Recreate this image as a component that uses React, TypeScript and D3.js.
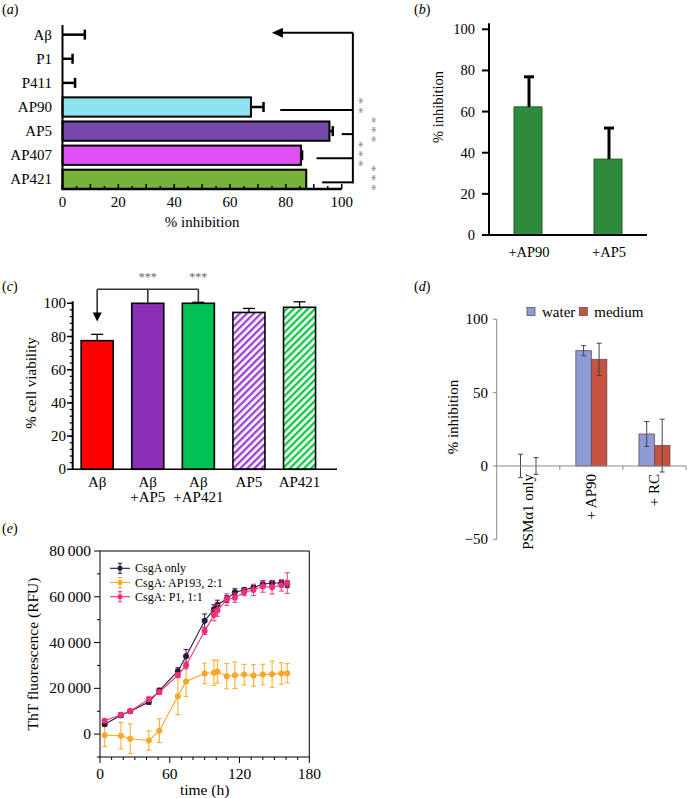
import React from 'react';
import * as d3 from 'd3';

const FONT = '"Liberation Serif","Times New Roman",Times,serif';

// ---------- panel (a)
const aCategories = ['Aβ', 'P1', 'P411', 'AP90', 'AP5', 'AP407', 'AP421'];
const aValues = [0, 0, 0, 67.5, 95.6, 85.4, 87.3];
const aErrors = [8, 3.6, 4.5, 4.5, 1.2, 0.4, 0];
const aColors = ['none', 'none', 'none', '#8de3ef', '#7649a9', '#e04ff3', '#78b23c'];
const aTicks = [0, 20, 40, 60, 80, 100];
const aBracketFrom = [null, null, null, 78, 100, 91, 93];
const aStars = ['', '', '', '**', '***', '***', '***'];
const aStarColumn = [0, 0, 0, 0, 1, 0, 1];
const aArrowTip = 75;
const aBracketX = 104;

// ---------- panel (b)
const bCategories = ['+AP90', '+AP5'];
const bValues = [62.3, 36.9];
const bErrors = [14.6, 15.1];
const bTicks = [0, 20, 40, 60, 80, 100];

// ---------- panel (c)
const cCategories = ['Aβ', 'Aβ\n+AP5', 'Aβ\n+AP421', 'AP5', 'AP421'];
const cValues = [77.5, 100, 100, 94.5, 97.6];
const cErrors = [3.8, 0, 0.6, 2.4, 3.3];
const cFills = ['#ff0000', '#8a2eb8', '#00c153', 'url(#hatchPurple)', 'url(#hatchGreen)'];
const cTicks = [0, 20, 40, 60, 80, 100];
const cBracketLevel = 108.5;
const cArrowTip = 89;

// ---------- panel (d)
const dCategories = ['PSMα1 only', '+ AP90', '+ RC'];
const dSeries = ['water', 'medium'];
const dWater = [0, 78.6, 21.8];
const dWaterErr = [8, 3.4, 8.5];
const dMedium = [0, 72.7, 13.9];
const dMediumErr = [5.7, 11, 18];
const dColors = ['#8e9bd6', '#c5533f'];
const dTicks = [-50, 0, 50, 100];

// ---------- panel (e)
const eTimes = [4, 18, 26, 42, 51, 67, 74, 90, 98, 101, 109, 116, 124, 132, 140, 148, 156, 161];
const eCsgaOnly = [4300, 8200, 10000, 14000, 19000, 27500, 34000, 49500, 54500, 56500, 59000, 62000, 63000, 64000, 65500, 66000, 66000, 65500];
const eCsgaOnlyErr = [800, 1000, 800, 1000, 1000, 1500, 3000, 3000, 2000, 2000, 1500, 1500, 1000, 1000, 1500, 1000, 1000, 1500];
const eAP193 = [-500, -700, -2000, -2800, 1500, 16500, 23000, 26500, 26800, 27300, 25300, 25700, 26000, 25600, 26000, 26200, 26500, 26600];
const eAP193Err = [5000, 5800, 6500, 4200, 5200, 8000, 6500, 4500, 5500, 5000, 5500, 5800, 4500, 4700, 4500, 5700, 4700, 4200];
const eP1 = [5800, 8500, 10000, 15200, 18300, 25800, 30000, 45000, 52000, 54000, 58800, 59600, 62000, 63000, 64500, 64200, 65000, 66000];
const eP1Err = [800, 800, 800, 1000, 1000, 1000, 1500, 1500, 2500, 2500, 2500, 2000, 1500, 2500, 2500, 3000, 2500, 4500];
const eSeriesNames = ['CsgA only', 'CsgA: AP193, 2:1', 'CsgA: P1, 1:1'];
const eColors = ['#2a1838', '#f9a825', '#ef2f7e'];
const eXTicks = [0, 60, 120, 180];
const eYTicks = [0, 20000, 40000, 60000, 80000];

function PanelLabel({ x, y, letter }: { x: number; y: number; letter: string }) {
  return (
    <text x={x} y={y} fontSize={14} fontFamily={FONT}>
      (<tspan fontStyle="italic">{letter}</tspan>)
    </text>
  );
}

function PanelA() {
  const x = d3.scaleLinear().domain([0, 100]).range([62.5, 341.7]);
  const y = d3.scaleBand<string>().domain(aCategories).range([25, 189]).paddingInner(0.2);
  const bw = y.bandwidth();
  const cy = (c: string) => (y(c) as number) + bw / 2;
  const arrowY = (y(aCategories[0]) as number) + bw * 0.4;
  const lastY = cy(aCategories[aCategories.length - 1]) + 4;
  const bx = x(aBracketX);
  const starCols = [x(107), x(111.7)];
  return (
    <g>
      <PanelLabel x={2} y={14} letter="a" />
      {aCategories.map((c, i) => (
        <g key={c}>
          {aValues[i] > 0 && (
            <rect x={x(0)} y={y(c)} width={x(aValues[i]) - x(0)} height={bw}
              fill={aColors[i]} stroke="#000" strokeWidth={2} />
          )}
          {aErrors[i] > 0 && (
            <g stroke="#000" strokeWidth={2.5}>
              <line x1={x(aValues[i])} x2={x(aValues[i] + aErrors[i])} y1={cy(c)} y2={cy(c)} />
              <line x1={x(aValues[i] + aErrors[i])} x2={x(aValues[i] + aErrors[i])} y1={cy(c) - 5} y2={cy(c) + 5} />
            </g>
          )}
          <text x={52} y={cy(c) + 5} textAnchor="end" fontSize={15} fontFamily={FONT}>{c}</text>
        </g>
      ))}
      {/* axes */}
      <line x1={x(0)} x2={x(0)} y1={25} y2={189} stroke="#000" strokeWidth={2} />
      <line x1={x(0) - 1} x2={x(100)} y1={189} y2={189} stroke="#000" strokeWidth={2.5} />
      {d3.range(0, 101, 5).map((t) => (
        <line key={t} x1={x(t)} x2={x(t)} y1={189} y2={t % 10 === 0 ? 184 : 186} stroke="#000" strokeWidth={1.5} />
      ))}
      {aTicks.map((t) => (
        <text key={t} x={x(t)} y={207} textAnchor="middle" fontSize={15} fontFamily={FONT}>{t}</text>
      ))}
      <text x={x(50)} y={227} textAnchor="middle" fontSize={15} fontFamily={FONT}>% inhibition</text>
      {/* significance bracket */}
      <g stroke="#000" strokeWidth={2} fill="none">
        <line x1={bx} x2={bx} y1={arrowY} y2={lastY} />
        <line x1={bx} x2={x(aArrowTip) + 9} y1={arrowY} y2={arrowY} />
        {aCategories.map((c, i) =>
          aBracketFrom[i] !== null ? (
            <line key={c} x1={x(aBracketFrom[i] as number)} x2={bx} y1={cy(c) + 3} y2={cy(c) + 3} />
          ) : null
        )}
      </g>
      <polygon
        points={`${x(aArrowTip)},${arrowY} ${x(aArrowTip) + 11},${arrowY - 5} ${x(aArrowTip) + 11},${arrowY + 5}`}
        fill="#000" />
      {aCategories.map((c, i) =>
        aStars[i] ? (
          <text key={c} transform={`translate(${starCols[aStarColumn[i]] - 6.5},${cy(c)}) rotate(90)`}
            textAnchor="middle" fontSize={13} letterSpacing={3} fill="#888" fontFamily={FONT}>{aStars[i]}</text>
        ) : null
      )}
    </g>
  );
}

function PanelB() {
  const y = d3.scaleLinear().domain([0, 100]).range([235, 29.3]);
  const x = d3.scaleBand<string>().domain(bCategories).range([489, 647]).paddingInner(0.65).paddingOuter(0.3125);
  const bw = x.bandwidth();
  return (
    <g>
      <PanelLabel x={414} y={14} letter="b" />
      {bCategories.map((c, i) => {
        const x0 = x(c) as number;
        const cx = x0 + bw / 2 + 1;
        return (
          <g key={c}>
            <rect x={x0} y={y(bValues[i])} width={bw} height={y(0) - y(bValues[i])} fill="#2e8b3c" stroke="#1d5e27" strokeWidth={1} />
            <g stroke="#000" strokeWidth={3}>
              <line x1={cx} x2={cx} y1={y(bValues[i])} y2={y(bValues[i] + bErrors[i])} />
              <line x1={cx - 5} x2={cx + 5} y1={y(bValues[i] + bErrors[i])} y2={y(bValues[i] + bErrors[i])} />
            </g>
            <text x={cx} y={257} textAnchor="middle" fontSize={14.5} fontFamily={FONT}>{c}</text>
          </g>
        );
      })}
      <line x1={489} x2={489} y1={y(100) - 6} y2={y(0)} stroke="#000" strokeWidth={2} />
      <line x1={489} x2={647} y1={y(0)} y2={y(0)} stroke="#000" strokeWidth={2} />
      {bTicks.map((t) => (
        <g key={t}>
          <line x1={482} x2={489} y1={y(t)} y2={y(t)} stroke="#000" strokeWidth={2} />
          <text x={475} y={y(t) + 5} textAnchor="end" fontSize={14.5} fontFamily={FONT}>{t}</text>
        </g>
      ))}
      <text transform={`translate(443,107) rotate(-90)`} textAnchor="middle" fontSize={14.5} fontFamily={FONT}>% inhibition</text>
    </g>
  );
}

function PanelC() {
  const y = d3.scaleLinear().domain([0, 100]).range([469.3, 303.3]);
  const x = d3.scaleBand<string>().domain(cCategories).range([72.7, 324]).paddingInner(0.367).paddingOuter(0.167);
  const bw = x.bandwidth();
  const cx = (c: string) => (x(c) as number) + bw / 2;
  const by = y(cBracketLevel);
  return (
    <g>
      <defs>
        <pattern id="hatchPurple" width={5} height={5} patternUnits="userSpaceOnUse" patternTransform="rotate(45)">
          <rect width={5} height={5} fill="#fff" />
          <rect width={2.4} height={5} fill="#9b45d2" />
        </pattern>
        <pattern id="hatchGreen" width={5} height={5} patternUnits="userSpaceOnUse" patternTransform="rotate(45)">
          <rect width={5} height={5} fill="#fff" />
          <rect width={2.4} height={5} fill="#14c84a" />
        </pattern>
      </defs>
      <PanelLabel x={2} y={291} letter="c" />
      {cCategories.map((c, i) => (
        <g key={c}>
          <rect x={x(c)} y={y(cValues[i])} width={bw} height={y(0) - y(cValues[i])} fill={cFills[i]} stroke="#000" strokeWidth={1.6} />
          {cErrors[i] > 0 && (
            <g stroke="#000" strokeWidth={1.3}>
              <line x1={cx(c)} x2={cx(c)} y1={y(cValues[i])} y2={y(cValues[i] + cErrors[i])} />
              <line x1={cx(c) - 6} x2={cx(c) + 6} y1={y(cValues[i] + cErrors[i])} y2={y(cValues[i] + cErrors[i])} />
            </g>
          )}
          {c.split('\n').map((s, k) => (
            <text key={k} x={cx(c)} y={487 + k * 15} textAnchor="middle" fontSize={15} fontFamily={FONT}>{s}</text>
          ))}
        </g>
      ))}
      <line x1={72.7} x2={72.7} y1={y(0)} y2={y(100) - 2} stroke="#000" strokeWidth={2} />
      <line x1={72.7} x2={337} y1={y(0)} y2={y(0)} stroke="#000" strokeWidth={1.5} />
      {d3.range(0, 101, 4).map((t) => (
        <line key={t} x1={72.7 - 3} x2={72.7} y1={y(t)} y2={y(t)} stroke="#000" strokeWidth={1.2} />
      ))}
      {cTicks.map((t) => (
        <g key={t}>
          <line x1={67} x2={72.7} y1={y(t)} y2={y(t)} stroke="#000" strokeWidth={1.5} />
          <text x={66} y={y(t) + 5} textAnchor="end" fontSize={15} fontFamily={FONT}>{t}</text>
        </g>
      ))}
      <text transform={`translate(36,383) rotate(-90)`} textAnchor="middle" fontSize={15} fontFamily={FONT}>% cell viability</text>
      {/* bracket */}
      <g stroke="#333" strokeWidth={1.6} fill="none">
        <line x1={cx(cCategories[0])} x2={cx(cCategories[2])} y1={by} y2={by} />
        <line x1={cx(cCategories[0])} x2={cx(cCategories[0])} y1={by} y2={y(cArrowTip) - 8} />
        <line x1={cx(cCategories[1])} x2={cx(cCategories[1])} y1={by} y2={y(100)} />
        <line x1={cx(cCategories[2])} x2={cx(cCategories[2])} y1={by} y2={y(100)} />
      </g>
      <polygon points={`${cx(cCategories[0])},${y(cArrowTip)} ${cx(cCategories[0]) - 4.5},${y(cArrowTip) - 9} ${cx(cCategories[0]) + 4.5},${y(cArrowTip) - 9}`} fill="#000" />
      {[1, 2].map((i) => (
        <text key={i} x={cx(cCategories[i])} y={by - 8} textAnchor="middle" fontSize={12} fill="#666" fontFamily={FONT}>***</text>
      ))}
    </g>
  );
}

function PanelD() {
  const y = d3.scaleLinear().domain([-50, 100]).range([539.3, 319.3]);
  const x0 = d3.scaleBand<string>().domain(dCategories).range([496.7, 686]).paddingInner(0);
  const x1 = d3.scaleBand<string>().domain(dSeries).range([0, x0.bandwidth()]).paddingInner(0).paddingOuter(1.035);
  const bw = x1.bandwidth();
  const values = [dWater, dMedium];
  const errs = [dWaterErr, dMediumErr];
  return (
    <g>
      <PanelLabel x={414} y={291} letter="d" />
      {dCategories.map((c, i) => (
        <g key={c}>
          {dSeries.map((s, j) => {
            const bx = (x0(c) as number) + (x1(s) as number);
            const v = values[j][i];
            const e = errs[j][i];
            const cxm = bx + bw / 2;
            return (
              <g key={s}>
                {v !== 0 && (
                  <rect x={bx} y={y(Math.max(v, 0))} width={bw} height={Math.abs(y(v) - y(0))} fill={dColors[j]} stroke="#6a4a4a" strokeWidth={0.8} />
                )}
                <g stroke="#444" strokeWidth={1}>
                  <line x1={cxm} x2={cxm} y1={y(v - e)} y2={y(v + e)} />
                  <line x1={cxm - 2.5} x2={cxm + 2.5} y1={y(v - e)} y2={y(v - e)} />
                  <line x1={cxm - 2.5} x2={cxm + 2.5} y1={y(v + e)} y2={y(v + e)} />
                </g>
              </g>
            );
          })}
          <text transform={`translate(${(x0(c) as number) + x0.bandwidth() / 2 + 5},${y(0) + 8}) rotate(-90)`}
            textAnchor="end" fontSize={15} fontFamily={FONT}>{c}</text>
        </g>
      ))}
      <line x1={496.7} x2={496.7} y1={y(-50)} y2={y(100)} stroke="#888" strokeWidth={1} />
      <line x1={496.7} x2={686} y1={y(0)} y2={y(0)} stroke="#888" strokeWidth={1} />
      {dCategories.map((c) => (
        <line key={c} x1={(x0(c) as number) + x0.bandwidth()} x2={(x0(c) as number) + x0.bandwidth()} y1={y(0)} y2={y(0) + 4} stroke="#888" />
      ))}
      {dTicks.map((t) => (
        <g key={t}>
          <line x1={493} x2={496.7} y1={y(t)} y2={y(t)} stroke="#888" />
          <text x={488} y={y(t) + 5} textAnchor="end" fontSize={15} fontFamily={FONT}>{t === -50 ? '\u221250' : t}</text>
        </g>
      ))}
      <text transform={`translate(458,417) rotate(-90)`} textAnchor="middle" fontSize={15} fontFamily={FONT}>% inhibition</text>
      {dSeries.map((s, j) => {
        const lx = j === 0 ? 531 : 583.3;
        return (
          <g key={s}>
            <rect x={lx - 4} y={307.5} width={8} height={8} fill={dColors[j]} stroke="#555" strokeWidth={0.8} />
            <text x={lx + 11} y={316.5} fontSize={15} fontFamily={FONT}>{s}</text>
          </g>
        );
      })}
    </g>
  );
}

function PanelE() {
  const x = d3.scaleLinear().domain([0, 180]).range([100, 309.3]);
  const y = d3.scaleLinear().domain([-10000, 80000]).range([757, 551]);
  const series = [
    { name: eSeriesNames[1], vals: eAP193, errs: eAP193Err, color: eColors[1] },
    { name: eSeriesNames[0], vals: eCsgaOnly, errs: eCsgaOnlyErr, color: eColors[0] },
    { name: eSeriesNames[2], vals: eP1, errs: eP1Err, color: eColors[2] },
  ];
  const line = d3.line<number>().x((_, i) => x(eTimes[i])).y((d) => y(d));
  const fmt = (v: number) => d3.format(',')(v).replace(/,/g, '\u2009');
  return (
    <g>
      <PanelLabel x={2} y={533} letter="e" />
      {series.map((s) => (
        <g key={s.name}>
          <g stroke={s.color} strokeWidth={1}>
            {s.vals.map((v, i) => (
              <g key={i}>
                <line x1={x(eTimes[i])} x2={x(eTimes[i])} y1={y(v - s.errs[i])} y2={y(v + s.errs[i])} />
                <line x1={x(eTimes[i]) - 2.5} x2={x(eTimes[i]) + 2.5} y1={y(v - s.errs[i])} y2={y(v - s.errs[i])} />
                <line x1={x(eTimes[i]) - 2.5} x2={x(eTimes[i]) + 2.5} y1={y(v + s.errs[i])} y2={y(v + s.errs[i])} />
              </g>
            ))}
          </g>
          <path d={line(s.vals) || ''} fill="none" stroke={s.color} strokeWidth={1.1} />
          {s.vals.map((v, i) => (
            <circle key={i} cx={x(eTimes[i])} cy={y(v)} r={3} fill={s.color} />
          ))}
        </g>
      ))}
      <rect x={100} y={551} width={209.3} height={206} fill="none" stroke="#000" strokeWidth={1} />
      {d3.range(0, 181, 10).map((t) => (
        <line key={t} x1={x(t)} x2={x(t)} y1={757} y2={t % 60 === 0 ? 763 : 760} stroke="#000" />
      ))}
      {d3.range(-10000, 80001, 10000).map((t) => (
        <line key={t} x1={100} x2={t % 20000 === 0 ? 94 : 97} y1={y(t)} y2={y(t)} stroke="#000" />
      ))}
      {eXTicks.map((t) => (
        <text key={t} x={x(t)} y={779} textAnchor="middle" fontSize={15.5} fontFamily={FONT}>{t}</text>
      ))}
      {eYTicks.map((t) => (
        <text key={t} x={91} y={y(t) + 5} textAnchor="end" fontSize={15.5} fontFamily={FONT}>{fmt(t)}</text>
      ))}
      <text x={x(90)} y={795} textAnchor="middle" fontSize={15.5} fontFamily={FONT}>time (h)</text>
      <text transform={`translate(38,654) rotate(-90)`} textAnchor="middle" fontSize={15.5} fontFamily={FONT}>ThT fluorescence (RFU)</text>
      {[0, 1, 2].map((k) => {
        const ly = 568.3 + k * 14.2;
        return (
          <g key={k}>
            <line x1={110} x2={130} y1={ly} y2={ly} stroke={eColors[k]} strokeWidth={1.1} />
            <line x1={120} x2={120} y1={ly - 5} y2={ly + 5} stroke={eColors[k]} />
            <line x1={118} x2={122} y1={ly - 5} y2={ly - 5} stroke={eColors[k]} />
            <line x1={118} x2={122} y1={ly + 5} y2={ly + 5} stroke={eColors[k]} />
            <circle cx={120} cy={ly} r={2.5} fill={eColors[k]} />
            <text x={135} y={ly + 4} fontSize={12} fontFamily={FONT}>{eSeriesNames[k]}</text>
          </g>
        );
      })}
    </g>
  );
}

export default function App() {
  return (
    <svg width={690} height={798} viewBox="0 0 690 798"
      style={{ position: 'absolute', left: 0, top: 0, background: '#fff' }}>
      <rect width={690} height={798} fill="#fff" />
      <PanelA />
      <PanelB />
      <PanelC />
      <PanelD />
      <PanelE />
    </svg>
  );
}
